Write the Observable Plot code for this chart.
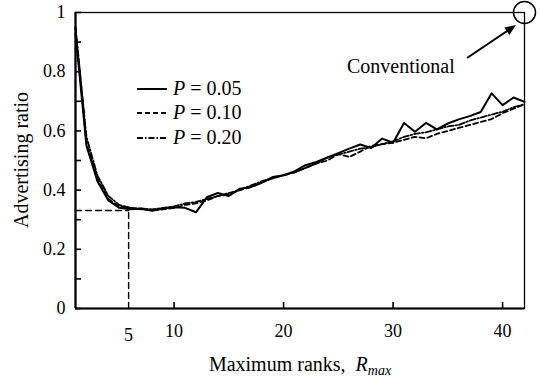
<!DOCTYPE html>
<html><head><meta charset="utf-8">
<script src="https://cdn.jsdelivr.net/npm/d3@7"></script>
<script src="https://cdn.jsdelivr.net/npm/@observablehq/plot@0.6"></script>
<style>
body{margin:0;background:#fff}
#chart{position:relative;width:540px;height:379px}
#chart svg, #chart svg text{font-family:'Liberation Serif', serif}
</style>
</head><body><div id="chart"></div>
<script>
const ranks = [1,2,3,4,5,6,7,8,9,10,11,12,13,14,15,16,17,18,19,20,21,22,23,24,25,26,27,28,29,30,31,32,33,34,35,36,37,38,39,40,41,42];
const p005 = [0.93,0.55,0.43,0.365,0.34,0.335,0.337,0.33,0.338,0.342,0.34,0.325,0.376,0.39,0.38,0.405,0.41,0.425,0.444,0.45,0.463,0.484,0.495,0.51,0.525,0.54,0.554,0.542,0.574,0.56,0.627,0.597,0.627,0.605,0.625,0.639,0.65,0.664,0.727,0.687,0.713,0.698];
const p010 = [0.95,0.56,0.44,0.37,0.345,0.34,0.335,0.332,0.335,0.34,0.35,0.355,0.365,0.38,0.385,0.4,0.41,0.425,0.44,0.45,0.46,0.475,0.49,0.5,0.522,0.512,0.53,0.55,0.555,0.56,0.57,0.58,0.575,0.59,0.6,0.61,0.62,0.63,0.64,0.66,0.675,0.69];
const p020 = [0.95,0.58,0.45,0.38,0.35,0.34,0.338,0.335,0.34,0.345,0.355,0.36,0.37,0.38,0.39,0.4,0.415,0.43,0.44,0.45,0.46,0.475,0.49,0.51,0.52,0.53,0.54,0.545,0.555,0.565,0.58,0.59,0.595,0.605,0.615,0.62,0.635,0.645,0.655,0.665,0.68,0.69];
const seriesLabels = ["0.05","0.10","0.20"];
const seriesDash = [null,"5,3","6,2,1.5,2"];
const yMinorTicks = [0,0.1,0.2,0.3,0.4,0.5,0.6,0.7,0.8,0.9,1];
const yMajorTicks = [0,0.2,0.4,0.6,0.8,1];
const yTickLabels = ["0","0.2","0.4","0.6","0.8","1"];
const xTicks = [10,20,30,40];
const optimum = {x: 5.85, y: 0.331, label: "5"};
const conventional = {x: 42, y: 1, label: "Conventional"};

const seriesValues = [p005, p010, p020];
const rows = [];
seriesValues.forEach((vals, s) => vals.forEach((v, i) => rows.push({r: ranks[i], v, s})));

const font = "'Liberation Serif', serif";
const plot = Plot.plot({
  width: 540, height: 379,
  marginLeft: 75, marginRight: 16, marginTop: 12, marginBottom: 71,
  style: {fontFamily: font, fontSize: "18px", color: "black", background: "white"},
  x: {domain: [1, 42]},
  y: {domain: [0, 1]},
  marks: [
    Plot.frame({strokeWidth: 1.3}),
    Plot.ruleX([1], {strokeWidth: 2.2}),
    Plot.ruleY([0], {strokeWidth: 2.2}),
    Plot.axisY({ticks: yMinorTicks, tickSize: -6, fill: "none", strokeWidth: 1.6, label: null}),
    Plot.axisY({ticks: yMajorTicks, tickSize: 0, tickPadding: 10, tickFormat: (d, i) => yTickLabels[i], label: null}),
    Plot.axisX({ticks: xTicks, tickSize: -6, fill: "none", strokeWidth: 1.6, label: null}),
    Plot.axisX({ticks: xTicks, tickSize: 0, tickPadding: 16, label: null}),
    Plot.line([{x: 1, y: optimum.y}, {x: optimum.x, y: optimum.y}], {x: "x", y: "y", strokeDasharray: "6,4", strokeWidth: 1.4}),
    Plot.line([{x: optimum.x, y: 0}, {x: optimum.x, y: optimum.y}], {x: "x", y: "y", strokeDasharray: "6,4", strokeWidth: 1.4}),
    Plot.text([optimum], {x: "x", y: 0, text: "label", dy: 20, lineAnchor: "top"}),
    ...[2,1,0].map(s => Plot.line(rows.filter(d => d.s === s), {x: "r", y: "v", stroke: "black", strokeWidth: s === 0 ? 2 : 1.8, strokeDasharray: seriesDash[s], curve: "linear"})),
    Plot.dot([conventional], {x: "x", y: "y", r: 11, stroke: "black", strokeWidth: 1.5, fill: "none"})
  ]
});
const host = document.getElementById("chart");
host.appendChild(plot);
const svg = d3.select(plot);
const sx = plot.scale("x"), sy = plot.scale("y");

// Axis titles
svg.append("text").attr("x", 300).attr("y", 371).attr("text-anchor", "middle")
  .style("font-family", font).attr("font-size", 20)
  .call(t => {
    t.append("tspan").text("Maximum ranks,  ");
    t.append("tspan").attr("font-style", "italic").text("R");
    t.append("tspan").attr("font-style", "italic").attr("font-size", 14).attr("dy", 4).text("max");
  });
svg.append("text").attr("transform", "translate(28,160) rotate(-90)").attr("text-anchor", "middle")
  .style("font-family", font).attr("font-size", 20).text("Advertising ratio");

// Legend
const legY = [89, 113, 138];
seriesLabels.forEach((lab, s) => {
  svg.append("line").attr("x1", 137).attr("x2", 167).attr("y1", legY[s]).attr("y2", legY[s])
    .attr("stroke", "black").attr("stroke-width", s === 0 ? 2 : 1.8).attr("stroke-dasharray", seriesDash[s]);
  const t = svg.append("text").attr("x", 173).attr("y", legY[s] + 6).attr("text-anchor", "start")
    .style("font-family", font).attr("font-size", 20);
  t.append("tspan").attr("font-style", "italic").text("P");
  t.append("tspan").text(" = " + lab);
});

// Conventional annotation
const cx = sx.apply(conventional.x), cy = sy.apply(conventional.y);
svg.append("text").attr("x", cx - 177).attr("y", cy + 61).attr("text-anchor", "start")
  .style("font-family", font).attr("font-size", 20).text(conventional.label);
const ax0 = cx - 57, ay0 = cy + 46, ax1 = cx - 8, ay1 = cy + 13;
svg.append("line").attr("x1", ax0).attr("y1", ay0).attr("x2", ax1 - 6).attr("y2", ay1 + 4).attr("stroke", "black").attr("stroke-width", 2);
const ang = Math.atan2(ay1 - ay0, ax1 - ax0);
const hl = 11, hw = 4.5;
const bx = ax1 - hl * Math.cos(ang), by = ay1 - hl * Math.sin(ang);
svg.append("path").attr("d", `M${ax1},${ay1}L${bx - hw * Math.sin(ang)},${by + hw * Math.cos(ang)}L${bx + hw * Math.sin(ang)},${by - hw * Math.cos(ang)}Z`).attr("fill", "black");
</script>
</body></html>
